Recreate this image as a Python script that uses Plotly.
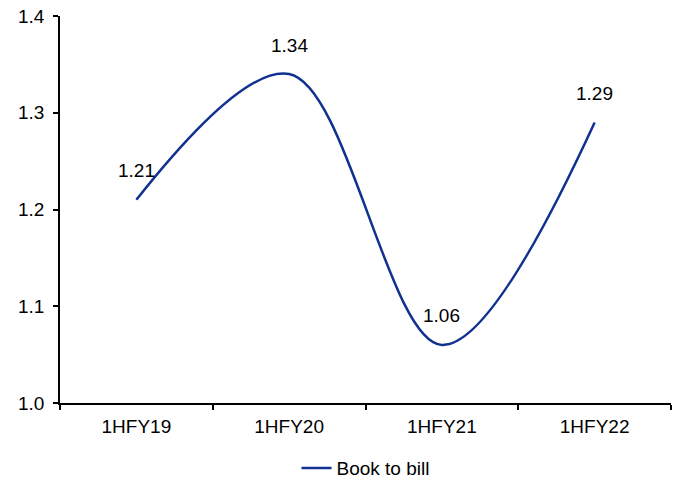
import plotly.graph_objects as go

categories = ["1HFY19", "1HFY20", "1HFY21", "1HFY22"]
book_to_bill = [1.21, 1.34, 1.06, 1.29]
label_texts = ["1.21", "1.34", "1.06", "1.29"]
series_name = "Book to bill"

color = "#10318f"
font = dict(family="Liberation Sans, Arial, sans-serif", size=19, color="#000000")

fig = go.Figure()
fig.add_trace(go.Scatter(
    x=categories, y=book_to_bill, mode="lines", name=series_name,
    line=dict(color=color, width=2.5, shape="spline", smoothing=1.0),
    hoverinfo="skip",
))

for c, v, t in zip(categories, book_to_bill, label_texts):
    fig.add_annotation(x=c, y=v, text=t, showarrow=False, yshift=29,
                       yanchor="middle", xanchor="center", font=font)

fig.update_layout(
    width=688, height=483,
    margin=dict(l=60, r=17, t=16, b=80, autoexpand=False),
    paper_bgcolor="white", plot_bgcolor="white",
    font=font,
    showlegend=True,
    legend=dict(orientation="h", x=0.5, xanchor="center", yref="container", y=0.031, yanchor="middle",
                font=font, bgcolor="rgba(0,0,0,0)"),
    xaxis=dict(
        type="category", range=[-0.5, 3.5], automargin=False,
        showline=True, linecolor="black", linewidth=1.5,
        ticks="outside", tickson="boundaries", ticklen=5, tickcolor="black", tickwidth=1.5,
        showgrid=False, zeroline=False, tickfont=font, ticklabelstandoff=5,
    ),
    yaxis=dict(
        range=[1.0, 1.4], dtick=0.1, tick0=1.0, tickformat=".1f", automargin=False,
        showline=True, linecolor="black", linewidth=1.5,
        ticks="outside", ticklen=5, tickcolor="black", tickwidth=1.5,
        showgrid=False, zeroline=False, tickfont=font, ticklabelstandoff=5,
    ),
)

fig.write_html("out.html")
